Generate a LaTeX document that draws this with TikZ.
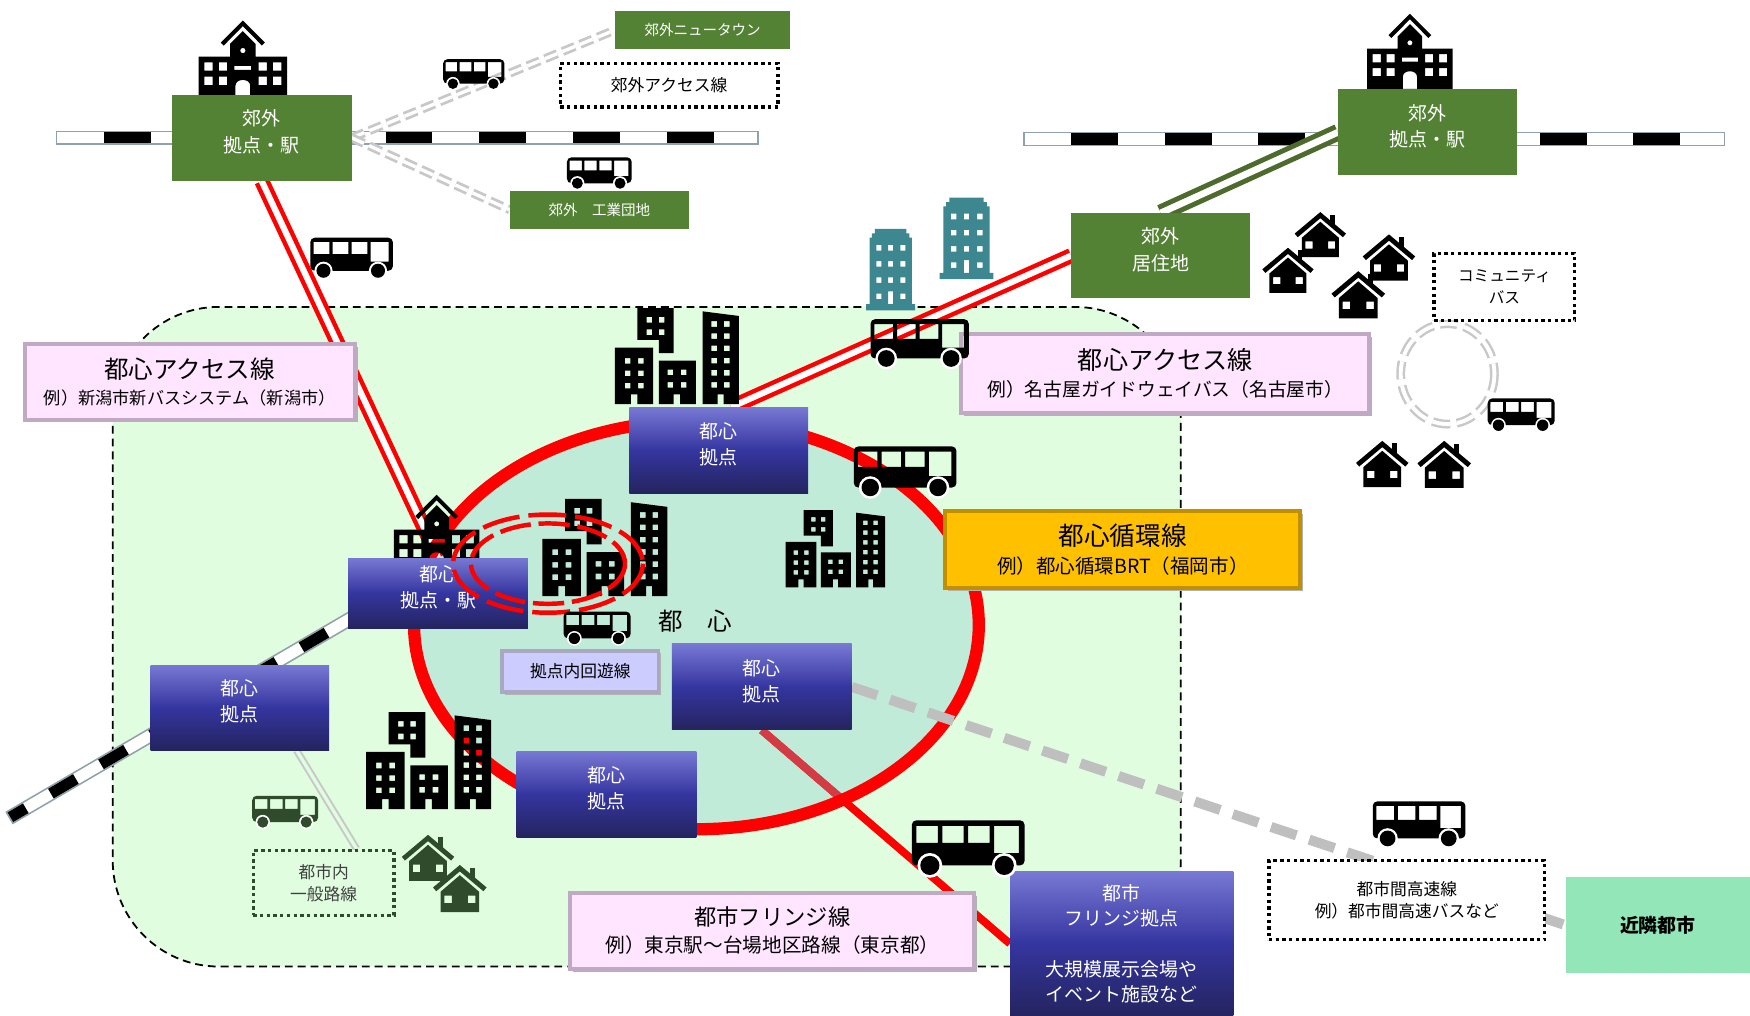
\documentclass[tikz,border=0pt]{standalone}
\usepackage{fontspec}
\setmainfont{Noto Sans CJK JP}
\usetikzlibrary{shadows}

\newcommand{\fsz}[2]{\fontsize{#1}{#2}\selectfont}
\newcommand{\railtrack}[4]{%
  \draw[line width=13pt, railedge] #1 -- #2;
  \draw[line width=10pt, white, shorten <=1.5pt, shorten >=1.5pt] #1 -- #2;
  \draw[line width=10pt, black, dash pattern=on #3pt off #3pt, dash phase=#4pt, shorten <=1.5pt, shorten >=1.5pt] #1 -- #2;}

\definecolor{sgreen}{HTML}{548235}
\definecolor{dkgreen}{HTML}{2F4B2C}
\definecolor{linegreen}{HTML}{4E6B2E}
\definecolor{regionfill}{HTML}{E0FDE0}
\definecolor{ellfill}{HTML}{C1EBD9}
\definecolor{bluetop}{HTML}{7878D4}
\definecolor{bluemid}{HTML}{3535A0}
\definecolor{bluebot}{HTML}{24245F}
\definecolor{pinkfill}{HTML}{FFE5FF}
\definecolor{pinkedge}{HTML}{BFA9C3}
\definecolor{goldfill}{HTML}{FFC000}
\definecolor{goldedge}{HTML}{C09000}
\definecolor{lavfill}{HTML}{CCCCFF}
\definecolor{lavedge}{HTML}{A8A8C0}
\definecolor{mint}{HTML}{92E6B8}
\definecolor{towerteal}{HTML}{3D8890}
\definecolor{railedge}{HTML}{8FA2A8}
\definecolor{lgrey}{HTML}{C8C8C8}
\definecolor{dashgrey}{HTML}{BFBFBF}
\definecolor{fringered}{HTML}{D43C45}

\pgfdeclarelayer{base}
\pgfdeclarelayer{lines}
\pgfdeclarelayer{icons}
\pgfdeclarelayer{top}
\pgfsetlayers{base,lines,icons,main,top}

\tikzset{
  pics/bus/.style={code={
    \fill[even odd rule, rounded corners=4pt] (0,0) rectangle (100,40)
      [sharp corners] (4,5) rectangle (23,20) (27,5) rectangle (46,20)
      (50,5) rectangle (69,20) (73,5) rectangle (95,29);
    \fill[white] (16,40) circle[radius=11] (82,40) circle[radius=11];
    \fill (16,40) circle[radius=8.5] (82,40) circle[radius=8.5];
  }},
  pics/cityblock/.style={code={
    \fill[even odd rule]
      (68,0) -- (178,0) -- (178,137) -- (133,137) -- (133,97) -- (68,97) -- cycle
      (96,27) rectangle ++(17,17) (133,27) rectangle ++(17,17)
      (96,65) rectangle ++(17,17) (133,65) rectangle ++(17,17)
      (0,120) -- (116,120) -- (116,292) -- (68,292) -- (68,262) -- (48,262) -- (48,292) -- (0,292) -- cycle
      (30,152) rectangle ++(17,17) (70,152) rectangle ++(17,17)
      (30,190) rectangle ++(17,17) (70,190) rectangle ++(17,17)
      (30,227) rectangle ++(17,17) (70,227) rectangle ++(17,17)
      (133,160) -- (246,160) -- (246,292) -- (198,292) -- (198,262) -- (178,262) -- (178,292) -- (133,292) -- cycle
      (160,187) rectangle ++(17,17) (200,187) rectangle ++(17,17)
      (160,225) rectangle ++(17,17) (200,225) rectangle ++(17,17)
      (266,10) -- (376,24) -- (376,292) -- (330,292) -- (330,262) -- (312,262) -- (312,292) -- (266,292) -- cycle
      foreach \yy in {40,77,114,151,188,225} {(293,\yy) rectangle ++(17,17) (331,\yy) rectangle ++(17,17)};
  }},
  pics/school/.style={code={
    \begin{scope}[shift={(-28,-9)}]
      \fill (94,76) -- (160,10) -- (226,76) -- (217,85) -- (160,27) -- (103,85) -- cycle;
      \fill[even odd rule]
        (122,118) -- (122,80) -- (160,42) -- (198,80) -- (198,118) -- (292,118) -- (292,242) -- (28,242) -- (28,118) -- cycle
        (160,100) circle[radius=8]
        (45,135) rectangle (70,160) (88,135) rectangle (113,160) (207,135) rectangle (232,160) (250,135) rectangle (275,160)
        (45,178) rectangle (70,203) (88,178) rectangle (113,203) (207,178) rectangle (232,203) (250,178) rectangle (275,203)
        (135,146) rectangle (185,158)
        (138,242) -- (138,205) .. controls (138,182) and (182,182) .. (182,205) -- (182,242) -- cycle;
    \end{scope}
  }},
  pics/house/.style={code={
    \fill (0,42) -- (50,0) -- (100,42) -- (94,49) -- (50,12) -- (6,49) -- cycle;
    \fill (69,5) rectangle (78,24);
    \fill[even odd rule] (14,50) -- (50,19) -- (86,50) -- (86,88) -- (14,88) -- cycle
      (21,57) rectangle (35,71) (65,57) rectangle (79,71);
  }},
  pics/tower/.style={code={
    \fill[even odd rule]
      (0,146) -- (0,135) -- (7,135) -- (7,16) -- (12,16) -- (12,8) -- (18,8) -- (18,0) -- (82,0) -- (82,8) -- (88,8) -- (88,16) -- (93,16) -- (93,135) -- (100,135) -- (100,146) -- cycle
      foreach \yy in {29,58,87} {(21,\yy) rectangle ++(10,10) (45,\yy) rectangle ++(10,10) (70,\yy) rectangle ++(10,10)}
      (21,116) rectangle ++(10,10) (70,116) rectangle ++(10,10)
      (45,112) rectangle (55,135);
  }},
  gbox/.style={rectangle, fill=sgreen, text=white, align=center, inner sep=0pt, font=\fsz{17}{24}},
  bbox/.style={rectangle, top color=bluetop, bottom color=bluebot, middle color=bluemid,
    text=white, align=center, inner sep=0pt, font=\fsz{17}{23}},
  raised/.style={text depth=12pt},
  callout/.style={rectangle, line width=3.5pt, align=center, inner sep=0pt, font=\fsz{15}{23},
    drop shadow={shadow xshift=2.5pt, shadow yshift=-2.5pt, fill=black!30, opacity=1}},
  dotbox/.style={rectangle, draw=black, fill=white, line width=3pt, dash pattern=on 3pt off 3pt,
    align=center, inner sep=0pt, font=\fsz{15}{20}},
  accessline/.style={red, line width=4pt, double=white, double distance=5.5pt},
  feeder/.style={lgrey, line width=2.5pt, double=white, double distance=3pt, dash pattern=on 12pt off 5pt},
}

\begin{document}
\begin{tikzpicture}[x=1pt, y=-1pt]
\useasboundingbox (0,0) rectangle (1568,910);

% ---------- boxes and labels ----------
\node[gbox, raised, minimum width=161pt, minimum height=77pt] (stL) at (234.5,123.5) {郊外\\拠点・駅};
\node[gbox, raised, minimum width=160pt, minimum height=77pt] (stR) at (1279,118.5) {郊外\\拠点・駅};
\node[gbox, minimum width=157pt, minimum height=34pt, font=\fsz{13}{16}] (newtown) at (629.5,27) {郊外ニュータウン};
\node[gbox, minimum width=160pt, minimum height=34pt, font=\fsz{13}{16}] (industry) at (537,188) {郊外　工業団地};
\node[gbox, raised, minimum width=160pt, minimum height=76pt] (resid) at (1040,229) {郊外\\居住地};

\node[bbox, raised, minimum width=160pt, minimum height=77pt] (cTop) at (644,403.5) {都心\\拠点};
\node[bbox, raised, minimum width=161pt, minimum height=63pt] (cSta) at (392.5,531.5) {都心\\拠点・駅};
\node[bbox, raised, minimum width=160pt, minimum height=76pt] (cLeft) at (215,634) {都心\\拠点};
\node[bbox, raised, minimum width=161pt, minimum height=77pt] (cMid) at (682.5,615.5) {都心\\拠点};
\node[bbox, raised, minimum width=161pt, minimum height=77pt] (cBot) at (543.5,711.5) {都心\\拠点};
\node[bbox, minimum width=200pt, minimum height=129pt] (fringe) at (1005,845.5)
  {都市\\フリンジ拠点\\[22pt]大規模展示会場や\\イベント施設など};

\node[callout, fill=pinkfill, draw=pinkedge, minimum width=296pt, minimum height=68pt, font=\fsz{15.4}{23}] (accL) at (170,342)
  {{\fsz{22}{26}都心アクセス線}\\例）新潟市新バスシステム（新潟市）};
\node[callout, fill=pinkfill, draw=pinkedge, minimum width=366pt, minimum height=71pt, font=\fsz{16.8}{25}] (accR) at (1044,334.5)
  {{\fsz{22.5}{26}都心アクセス線}\\例）名古屋ガイドウェイバス（名古屋市）};
\node[callout, fill=goldfill, draw=goldedge, minimum width=318pt, minimum height=69pt, font=\fsz{17.5}{25}] (loop) at (1006,492.5)
  {{\fsz{23}{26}都心循環線}\\例）都心循環BRT（福岡市）};
\node[callout, fill=pinkfill, draw=pinkedge, minimum width=362pt, minimum height=68pt, font=\fsz{17.6}{24}] (fringeLine) at (692,834)
  {{\fsz{20}{24}都市フリンジ線}\\例）東京駅～台場地区路線（東京都）};
\node[callout, fill=lavfill, draw=lavedge, minimum width=140pt, minimum height=37pt] (innerLoop) at (520,601.5) {拠点内回遊線};

\node[dotbox, minimum width=195pt, minimum height=39pt] (subAcc) at (599.5,76.5) {郊外アクセス線};
\node[dotbox, minimum width=126pt, minimum height=60pt, font=\fsz{14}{20}] (commu) at (1348,257) {コミュニティ\\バス};
\node[dotbox, minimum width=247pt, minimum height=71pt] (inter) at (1260.5,806.5) {都市間高速線\\例）都市間高速バスなど};
\node[dotbox, draw=dkgreen, fill=regionfill, text=black!75, minimum width=126pt, minimum height=58pt] (locl) at (290,791) {都市内\\一般路線};

\node[rectangle, fill=mint, minimum width=165pt, minimum height=86pt, font=\bfseries\fsz{17}{20}] (neigh) at (1485.5,829) {近隣都市};
\node[font=\fsz{22}{26}] (core) at (623,557) {都　心};

% ---------- ground: city area, railways, core ----------
\begin{pgfonlayer}{base}
  \fill[white] (0,0) rectangle (1568,910);
  \draw[fill=regionfill, line width=1.6pt, dash pattern=on 7pt off 4.5pt, rounded corners=95pt] (101,275) rectangle (1058,866);
  \railtrack{(50,123.5)}{(680,123.5)}{42}{42}
  \railtrack{(917,124.5)}{(1546,124.5)}{42}{43}
  \railtrack{(8,733)}{(330,545)}{26}{10}
  \fill[ellfill] (624,560) ellipse [x radius=253, y radius=183];
  \pic[color=towerteal, xscale=0.44, yscale=0.5] at (776,205) {tower};
  \pic[color=towerteal, xscale=0.48, yscale=0.5] at (842,177) {tower};
\end{pgfonlayer}

% ---------- routes ----------
\begin{pgfonlayer}{lines}
  \draw[feeder] (stL.east) -- (newtown.west);
  \draw[feeder] (stL.east) -- (industry.west);
  \draw[accessline] (stL.south) -- (cSta.north);
  \draw[accessline] (resid.west) -- (cTop.74);
  \draw[linegreen, line width=4.5pt, double=white, double distance=6pt] (stR.west) -- (resid.north);
  \draw[red, line width=7pt] (cMid.south) -- (fringe.west);
  \begin{scope}
    \clip (624,560) ellipse [x radius=253, y radius=183];
    \draw[fringered, line width=7pt] (cMid.south) -- (fringe.west);
  \end{scope}
  \draw[red, line width=11pt] (624,560) ellipse [x radius=253, y radius=183];
  \draw[dashgrey, line width=9pt, dash pattern=on 24pt off 12pt] (cMid.east) -- (neigh.west);
  \draw[lgrey, line width=1.8pt, double=regionfill, double distance=3pt] (cLeft.-37) -- (locl.46);
  \draw[lgrey, line width=2.2pt, double=white, double distance=3.5pt, dash pattern=on 16pt off 6pt]
    (1297,335) ellipse [x radius=42, y radius=45];
\end{pgfonlayer}

% ---------- buildings, stations, houses ----------
\begin{pgfonlayer}{icons}
  \pic[scale=0.295] at (551,276) {cityblock};
  \pic[scale=0.298] at (486,447) {cityblock};
  \pic[scale=0.237] at (704,457) {cityblock};
  \pic[scale=0.298] at (328,638) {cityblock};
  \pic[scale=0.30] at (178,18) {school};
  \pic[scale=0.29] at (1225,12) {school};
  \pic[scale=0.29] at (353,443) {school};
  \pic[scale=0.46] at (1160,190) {house};
  \pic[scale=0.47] at (1221,210) {house};
  \pic[scale=0.46] at (1131,222) {house};
  \pic[scale=0.48] at (1193,243) {house};
  \pic[scale=0.47] at (1215,395) {house};
  \pic[scale=0.48] at (1270,395) {house};
  \pic[scale=0.47, color=dkgreen] at (360,748) {house};
  \pic[scale=0.48, color=dkgreen] at (388,775) {house};
\end{pgfonlayer}

% ---------- buses and the station loop ----------
\begin{pgfonlayer}{top}
  \draw[red, line width=4pt, dash pattern=on 34pt off 8pt] (491,505) ellipse [x radius=85, y radius=44];
  \draw[red, line width=4pt, dash pattern=on 28pt off 7pt] (491,505) ellipse [x radius=69, y radius=36];
  \pic[scale=0.55] at (397,53) {bus};
  \pic[scale=0.58] at (508,141) {bus};
  \pic[scale=0.74] at (278,213) {bus};
  \pic[scale=0.88] at (780,286) {bus};
  \pic[scale=0.92] at (765,400) {bus};
  \pic[scale=0.60] at (505,548) {bus};
  \pic[scale=1.01] at (817,735) {bus};
  \pic[scale=0.83] at (1230,718) {bus};
  \pic[scale=0.60] at (1333,357) {bus};
  \pic[scale=0.59, color=dkgreen] at (226,713) {bus};
\end{pgfonlayer}
\end{tikzpicture}
\end{document}
